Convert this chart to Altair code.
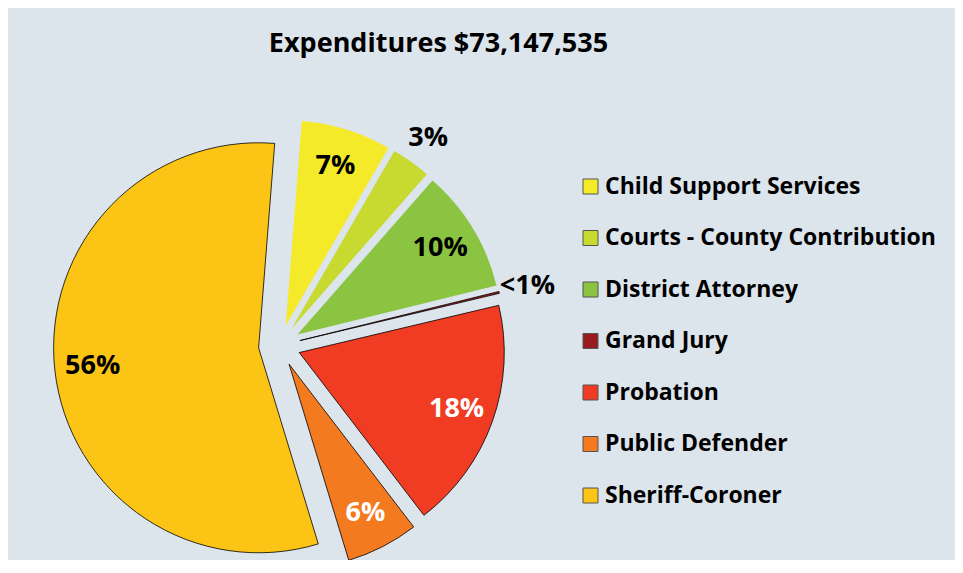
import math
import altair as alt
import pandas as pd

# ---- data ----
categories = [
    "Child Support Services",
    "Courts - County Contribution",
    "District Attorney",
    "Grand Jury",
    "Probation",
    "Public Defender",
    "Sheriff-Coroner",
]
shares = [7.1, 3.1, 9.7, 0.15, 18.3, 5.7, 55.95]  # percent of total
colors = ["#F5EA2A", "#C8D92F", "#8BC441", "#9A1B1F", "#EF3C23", "#F47A20", "#FCC516"]
title_text = "Expenditures $73,147,535"

df = pd.DataFrame({"category": categories, "share": shares, "order": list(range(len(categories)))})

FONT = "Open Sans"
START = 4.5 * math.pi / 180.0
CX, CY = 271.5, 267.5
R = 205
EXPLODE = 21

outlined = "indexof(['Grand Jury','Probation','Public Defender','Sheriff-Coroner'], datum.category) >= 0"
white_lbl = "datum.category == 'Probation' || datum.category == 'Public Defender'"

base = (
    alt.Chart(df)
    .transform_joinaggregate(total="sum(share)")
    .transform_window(cum="sum(share)", sort=[alt.SortField("order")], frame=[None, 0])
    .transform_calculate(
        a0=f"{START} + 2*PI*(datum.cum - datum.share)/datum.total",
        a1=f"{START} + 2*PI*datum.cum/datum.total",
    )
    .transform_calculate(
        mid="(datum.a0 + datum.a1)/2",
        label="datum.share < 1 ? '<1%' : format(datum.share, '.0f') + '%'",
    )
)

arcs = base.mark_arc(
    outerRadius=R,
    x=CX,
    y=CY,
    xOffset=alt.expr(f"{EXPLODE}*sin(datum.mid)"),
    yOffset=alt.expr(f"-{EXPLODE}*cos(datum.mid)"),
    stroke="black",
    opacity=1,
).encode(
    theta=alt.Theta("a0:Q", scale=None),
    theta2="a1:Q",
    color=alt.Color(
        "category:N",
        scale=alt.Scale(domain=categories, range=colors),
        sort=categories,
        legend=alt.Legend(
            orient="none",
            legendX=571,
            legendY=97,
            title=None,
            padding=0,
            symbolType="square",
            symbolSize=225,
            symbolStrokeColor="#555555",
            symbolStrokeWidth=1,
            symbolOpacity=1,
            labelFont=FONT,
            labelFontSize=23,
            labelFontWeight="bold",
            labelColor="black",
            labelOffset=3,
            labelLimit=500,
            rowPadding=27.5,
        ),
    ),
    strokeWidth=alt.condition(outlined, alt.value(0.8), alt.value(0)),
)

labels = base.mark_text(
    x=CX,
    y=CY,
    radius=alt.expr("datum.share < 5 ? 255 : 188"),
    font=FONT,
    fontSize=27,
    fontWeight="bold",
    align="center",
    baseline="middle",
).encode(
    theta=alt.Theta("mid:Q", scale=None, stack=None),
    text="label:N",
    color=alt.condition(white_lbl, alt.value("white"), alt.value("black")),
)

chart = (
    alt.layer(arcs, labels)
    .properties(
        width=947,
        height=482,
        autosize=alt.AutoSizeParams(type="none"),
        padding={"left": 0, "top": 70, "right": 0, "bottom": 0},
        background="#DCE4EC",
        title=alt.Title(
            title_text,
            font=FONT,
            fontSize=27,
            fontWeight="bold",
            color="black",
            anchor="middle",
            dx=-43,
            offset=20,
        ),
    )
    .configure_view(stroke=None)
)

chart.save("out.html", embed_options={"renderer": "svg", "actions": False})
